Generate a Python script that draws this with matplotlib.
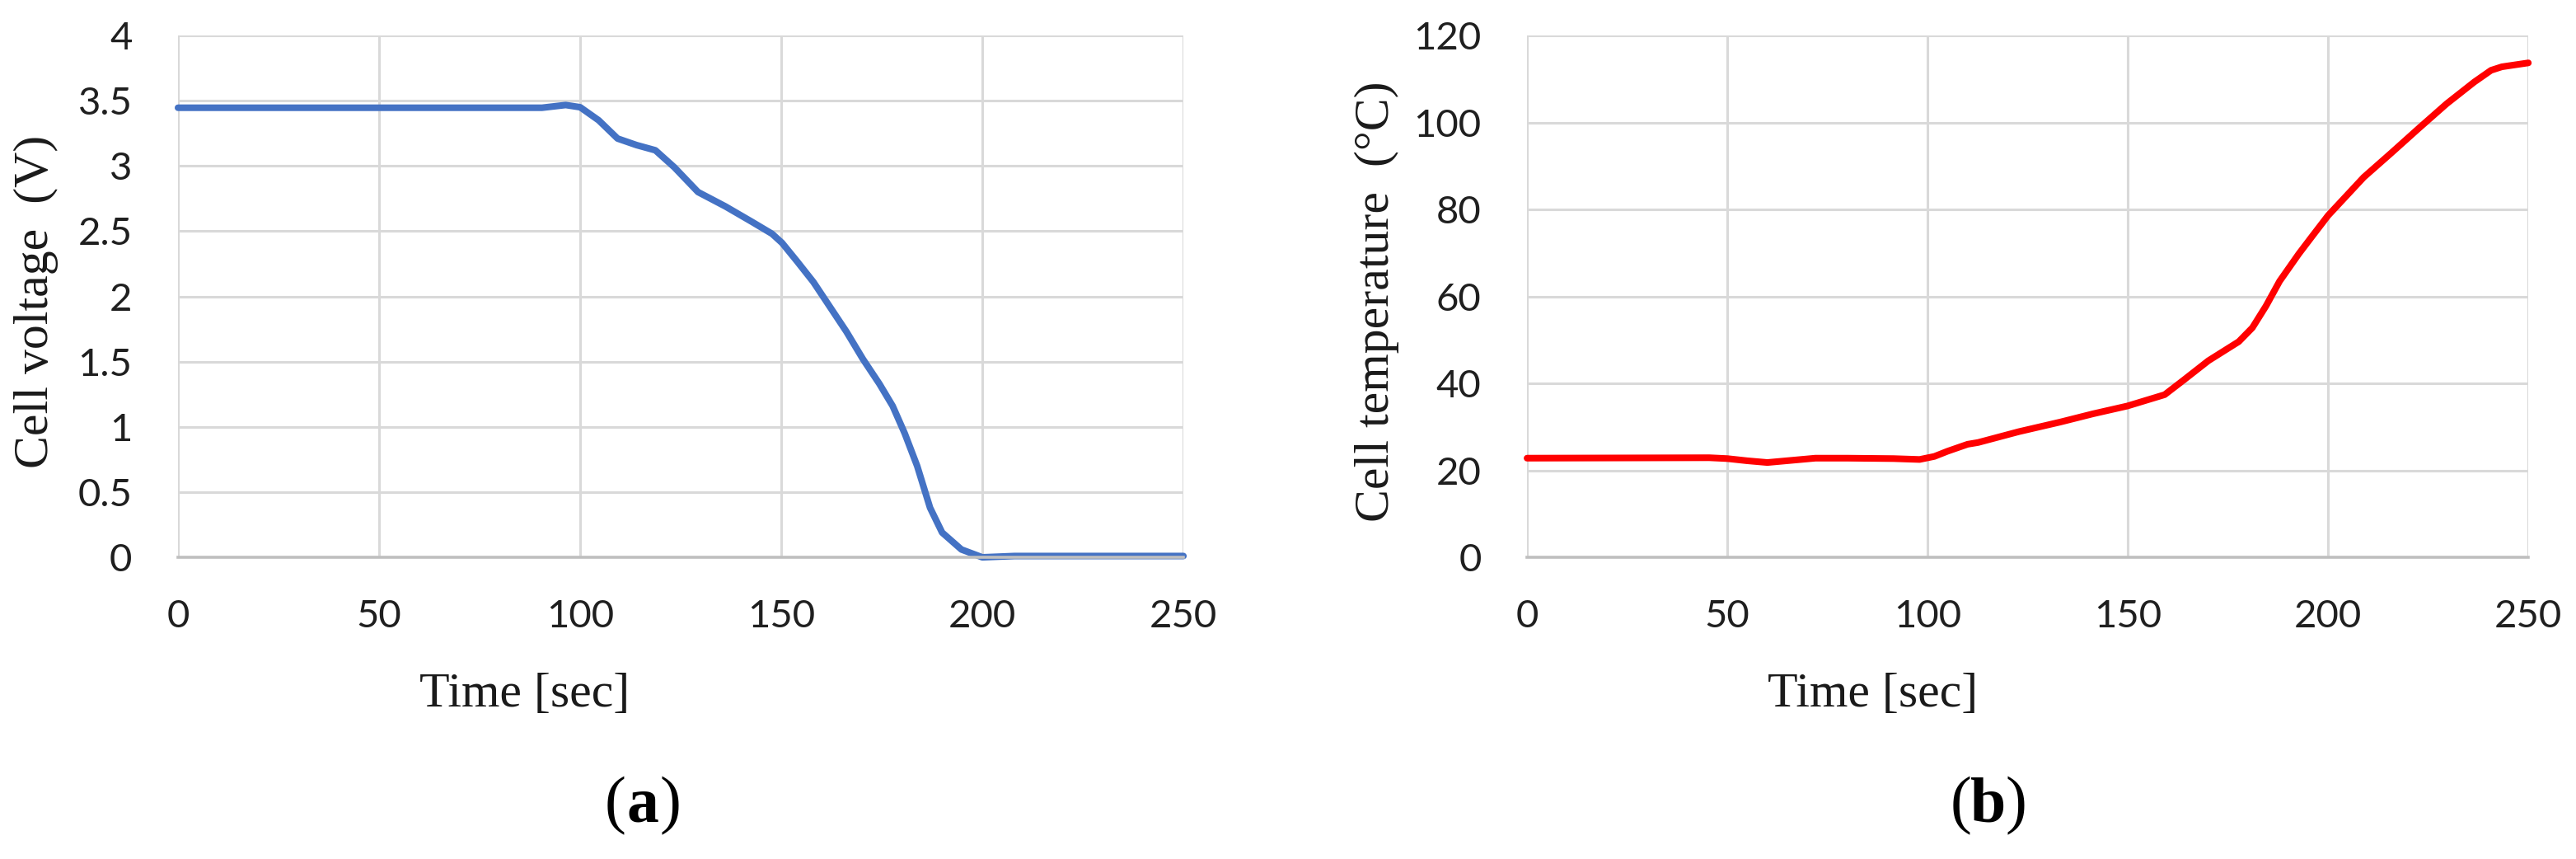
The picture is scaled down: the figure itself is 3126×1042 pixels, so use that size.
import matplotlib
matplotlib.use("Agg")
from matplotlib import pyplot as plt
from matplotlib.transforms import offset_copy

# (a) cell voltage
volt_t = [0, 50, 78.7, 90.5, 96.4, 100, 104.6, 109.3, 114, 118.7, 123.4, 129.3, 136.1,
          142.8, 147.7, 150.2, 153.9, 158, 162.1, 166.2, 170.3, 174.4, 177.7, 180.7,
          183.8, 187, 190, 194.8, 200, 208, 250]
volt_v = [3.446, 3.446, 3.446, 3.446, 3.467, 3.45, 3.35, 3.21, 3.16, 3.12, 2.99, 2.80, 2.69,
          2.57, 2.48, 2.41, 2.27, 2.11, 1.92, 1.73, 1.52, 1.33, 1.16, 0.95,
          0.70, 0.38, 0.19, 0.06, 0.0, 0.01, 0.01]

# (b) cell temperature
temp_t = [0, 45.5, 50, 55, 60, 66, 72, 80, 91.5, 98, 101.7, 105, 110, 112.6, 122.8, 133.1,
          141.3, 149.9, 159.2, 164, 170.1, 177.7, 181.1, 184.5, 187.9, 192.7, 196,
          200, 208.9, 215.8, 222.7, 229.6, 236.5, 240.7, 243.4, 250]
temp_c = [22.8, 22.9, 22.7, 22.2, 21.8, 22.3, 22.8, 22.8, 22.7, 22.5, 23.2, 24.4, 26.0, 26.4,
          28.9, 31.1, 33.0, 34.8, 37.4, 40.8, 45.2, 49.6, 52.8, 57.8, 63.5, 69.8, 73.8,
          78.6, 87.4, 93.0, 98.7, 104.3, 109.3, 112.0, 112.8, 113.7]

x_ticks = [0, 50, 100, 150, 200, 250]
volt_ticks = [0, 0.5, 1, 1.5, 2, 2.5, 3, 3.5, 4]
volt_labels = ["0", "0.5", "1", "1.5", "2", "2.5", "3", "3.5", "4"]
temp_ticks = [0, 20, 40, 60, 80, 100, 120]

TICK_FONT = "Lato"
LABEL_FONT = "Liberation Serif"
GRID = "#d9d9d9"


def style_axes(ax, yticks, ylabels, ylabel, ylab_x):
    ax.set_xlim(0, 250)
    ax.set_ylim(yticks[0], yticks[-1])
    ax.set_xticks(x_ticks)
    ax.set_yticks(yticks)
    ax.set_xticklabels([str(v) for v in x_ticks], fontfamily=TICK_FONT, fontsize=34)
    ax.set_yticklabels(ylabels, fontfamily=TICK_FONT, fontsize=34)
    ax.tick_params(axis="both", length=0, colors="#1f1f1f")
    ax.tick_params(axis="x", pad=37)
    ax.tick_params(axis="y", pad=40)
    ax.grid(True, color=GRID, linewidth=2.2)
    ax.set_axisbelow(True)
    for side in ["top", "right", "left"]:
        ax.spines[side].set_visible(False)
    ax.spines["bottom"].set_color("#bfbfbf")
    ax.spines["bottom"].set_linewidth(2.6)
    ax.set_xlabel("Time [sec]", fontfamily=LABEL_FONT, fontsize=43, color="#1a1a1a")
    ax.xaxis.set_label_coords(0.345, -0.264)
    ax.xaxis.label.set_verticalalignment("center")
    ax.set_ylabel(ylabel, fontfamily=LABEL_FONT, fontsize=43, color="#1a1a1a")
    ax.yaxis.set_label_coords(ylab_x, 0.49)
    ax.yaxis.label.set_verticalalignment("center")


fig = plt.figure(figsize=(31.26, 10.42), dpi=100)
ax1 = fig.add_axes([0.0691, 0.3512, 0.3903, 0.6075])
ax2 = fig.add_axes([0.5928, 0.3512, 0.3887, 0.6075])

ax1.plot(volt_t, volt_v, color="#4472C4", linewidth=5.8, solid_capstyle="round",
         solid_joinstyle="round", clip_on=False)
style_axes(ax1, volt_ticks, volt_labels, "Cell voltage  (V)", -0.141)

ax2.plot(temp_t, temp_c, color="#FF0000", linewidth=5.8, solid_capstyle="round",
         solid_joinstyle="round", clip_on=False)
style_axes(ax2, temp_ticks, [str(v) for v in temp_ticks], "Cell temperature  (°C)", -0.150)

# panel tags: regular parentheses around a bold letter
for xc, letter in [(780, "a"), (2413, "b")]:
    x, y = xc / 3126, 1 - 978 / 1042
    fig.text(x, y, letter, fontfamily=LABEL_FONT, fontsize=56, fontweight="bold",
             ha="center", va="center")
    fig.text(x, y, "(", fontfamily=LABEL_FONT, fontsize=56, ha="right", va="center",
             transform=offset_copy(fig.transFigure, fig=fig, x=-15, y=0, units="points"))
    fig.text(x, y, ")", fontfamily=LABEL_FONT, fontsize=56, ha="left", va="center",
             transform=offset_copy(fig.transFigure, fig=fig, x=15, y=0, units="points"))

fig.savefig("out.png", dpi=100, facecolor="white")
